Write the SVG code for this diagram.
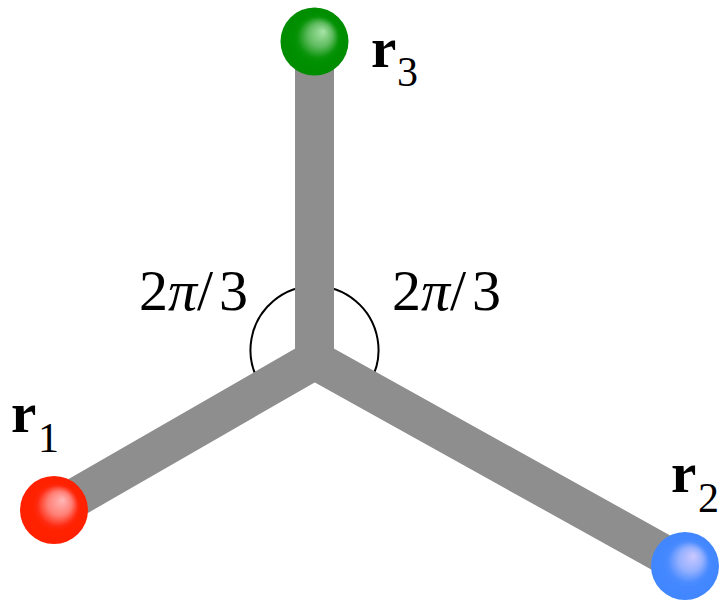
<svg xmlns="http://www.w3.org/2000/svg" width="719" height="600" viewBox="0 0 719 600">
<style>
.arm{stroke:#8e8e8e;stroke-width:39;stroke-linecap:round;fill:none}
.arc{stroke:#000;stroke-width:2;fill:none}
.ang{font-family:"Liberation Serif","Times New Roman",serif;font-size:58px;fill:#000}
.lbl{font-family:"Liberation Serif","Times New Roman",serif;fill:#000}
.r{font-weight:bold;font-size:57px}
.sub{font-size:42px}
</style>
<defs>
<radialGradient id="gG" cx="0.5" cy="0.5" r="0.5" fx="0.63" fy="0.35">
<stop offset="0" stop-color="#a8e4a8"/>
<stop offset="0.35" stop-color="#60bc60"/>
<stop offset="0.6" stop-color="#0a940a"/>
<stop offset="0.7" stop-color="#009000"/>
<stop offset="1" stop-color="#008c00"/>
</radialGradient>
<radialGradient id="gR" cx="0.5" cy="0.5" r="0.5" fx="0.63" fy="0.35">
<stop offset="0" stop-color="#ffb8b8"/>
<stop offset="0.35" stop-color="#ff8076"/>
<stop offset="0.6" stop-color="#ff2a10"/>
<stop offset="0.7" stop-color="#ff2200"/>
<stop offset="1" stop-color="#ff2000"/>
</radialGradient>
<radialGradient id="gB" cx="0.5" cy="0.5" r="0.5" fx="0.63" fy="0.35">
<stop offset="0" stop-color="#ccc8ff"/>
<stop offset="0.35" stop-color="#94b0ff"/>
<stop offset="0.6" stop-color="#4c8cff"/>
<stop offset="0.7" stop-color="#4488ff"/>
<stop offset="1" stop-color="#4086ff"/>
</radialGradient>
</defs>
<g id="angle-arc">
<path class="arc" d="M259.1 382 A64 64 0 1 1 369.9 382"/>
</g>
<g id="connectors">
<line class="arm" x1="314.5" y1="360" x2="314.5" y2="42"/>
<line class="arm" x1="314.5" y1="360" x2="54" y2="510"/>
<line class="arm" x1="314.5" y1="360" x2="685" y2="566"/>
</g>
<g id="node-r3">
<circle cx="314.5" cy="41.5" r="34" fill="url(#gG)"/>
<text class="lbl" y="67"><tspan class="r" x="371">r</tspan><tspan class="sub" x="397" y="86">3</tspan></text>
</g>
<g id="node-r1">
<circle cx="54" cy="510" r="34" fill="url(#gR)"/>
<text class="lbl" y="432"><tspan class="r" x="11">r</tspan><tspan class="sub" x="38" y="452">1</tspan></text>
</g>
<g id="node-r2">
<circle cx="685" cy="566" r="34" fill="url(#gB)"/>
<text class="lbl" y="492"><tspan class="r" x="671">r</tspan><tspan class="sub" x="698" y="512">2</tspan></text>
</g>
<g id="label-left">
<text class="ang" y="310"><tspan x="139">2</tspan><tspan x="168" font-style="italic">π</tspan><tspan x="197">/</tspan><tspan x="219">3</tspan></text>
</g>
<g id="label-right">
<text class="ang" y="310"><tspan x="392">2</tspan><tspan x="421" font-style="italic">π</tspan><tspan x="450">/</tspan><tspan x="472">3</tspan></text>
</g>
</svg>
